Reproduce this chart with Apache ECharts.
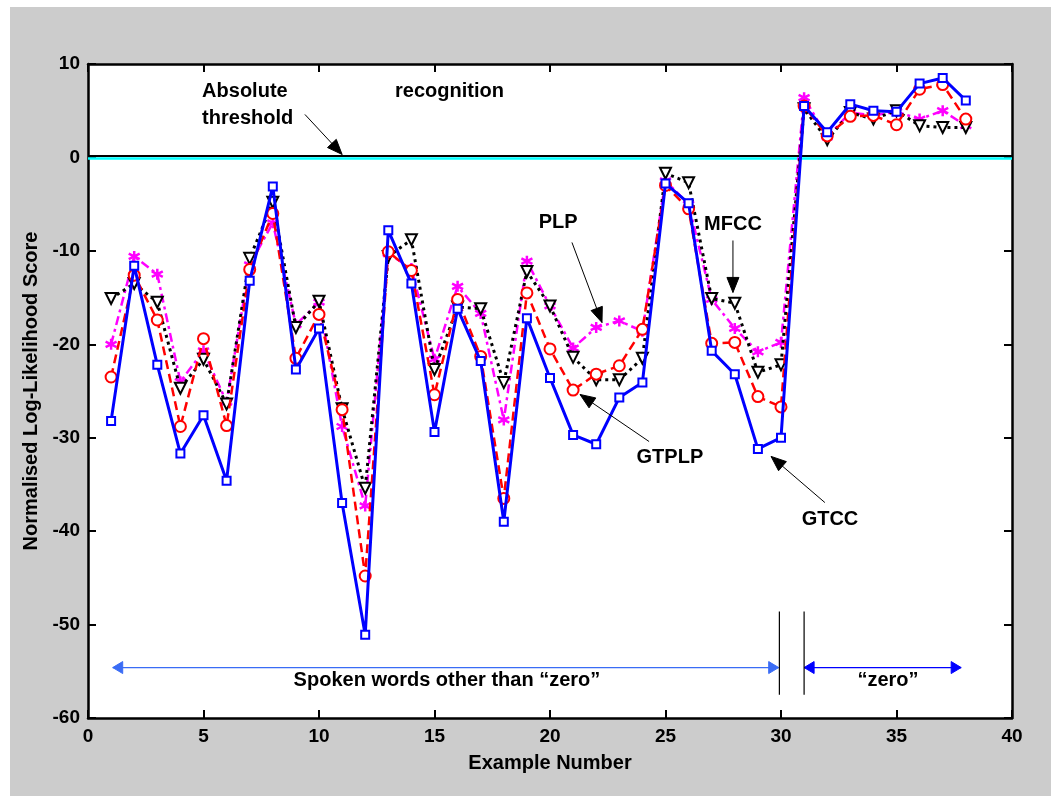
<!DOCTYPE html>
<html>
<head>
<meta charset="utf-8">
<script src="https://cdn.jsdelivr.net/npm/echarts@6/dist/echarts.min.js"></script>
<style>
html,body{margin:0;padding:0;background:#ffffff;}
#wrap{position:absolute;left:10px;top:7px;width:1041px;height:789px;background:#cccccc;}
#chart{position:absolute;left:0;top:0;width:1051px;height:796px;}
</style>
</head>
<body>
<div id="wrap"></div>
<div id="chart"></div>
<script>
// ---- data ----
const exampleNumbers = [1,2,3,4,5,6,7,8,9,10,11,12,13,14,15,16,17,18,19,20,21,22,23,24,25,26,27,28,29,30,31,32,33,34,35,36,37,38];
const gtcc  = [-28.2,-11.6,-22.2,-31.7,-27.6,-34.6,-13.2,-3.1,-22.7,-18.3,-37.0,-51.1,-7.8,-13.5,-29.4,-16.2,-21.8,-39.0,-17.2,-23.6,-29.7,-30.7,-25.7,-24.1,-2.8,-4.9,-20.7,-23.2,-31.2,-30.0,5.5,2.7,5.7,5.0,4.9,7.9,8.5,6.1];
const gtplp = [-23.5,-12.6,-17.4,-28.8,-19.4,-28.7,-12.0,-6.0,-21.5,-16.8,-27.0,-44.8,-10.1,-12.1,-25.4,-15.2,-21.3,-36.5,-14.5,-20.5,-24.9,-23.2,-22.3,-18.4,-3.0,-5.5,-19.9,-19.8,-25.6,-26.7,5.5,2.3,4.4,4.5,3.5,7.3,7.8,4.1];
const mfcc  = [-15.1,-13.5,-15.5,-24.7,-21.6,-26.4,-10.8,-4.8,-18.2,-15.4,-26.9,-35.4,-10.6,-8.8,-22.7,-16.0,-16.2,-24.1,-12.2,-15.9,-21.4,-23.8,-23.8,-21.5,-1.7,-2.7,-15.1,-15.6,-23.0,-22.2,5.2,1.9,4.8,4.1,5.0,3.4,3.2,3.2];
const plp   = [-20.0,-10.6,-12.5,-24.0,-20.7,-26.2,-11.5,-7.0,-17.9,-15.5,-28.8,-37.3,-10.3,-11.9,-21.6,-13.8,-16.7,-28.1,-11.1,-15.9,-20.4,-18.2,-17.5,-18.6,-2.5,-5.0,-15.2,-18.3,-20.8,-19.8,6.4,2.2,4.8,4.5,4.9,4.1,5.0,3.4];
const thresholdBlack = 0.15;
const thresholdCyan = -0.12;
const xTicks = [0,5,10,15,20,25,30,35,40];
const yTicks = [-60,-50,-40,-30,-20,-10,0,10];

const pair = arr => exampleNumbers.map((x,i)=>[x,arr[i]]);
const FONT = '"Liberation Sans", Arial, sans-serif';
const asterisk = 'path://M0,-6L0,6M-5.2,-3L5.2,3M-5.2,3L5.2,-3';

const chart = echarts.init(document.getElementById('chart'), null, {renderer:'canvas'});
const axisCommon = {
  axisLine:{show:true,onZero:false,lineStyle:{color:'#000',width:2.5}},
  axisTick:{show:true,inside:true,length:8,lineStyle:{color:'#000',width:2}},
  splitLine:{show:false}
};
chart.setOption({
  backgroundColor:'transparent',
  animation:false,
  grid:{left:88,right:39,top:64,bottom:78,show:true,backgroundColor:'#ffffff',borderWidth:0},
  xAxis:[
    Object.assign({type:'value',min:xTicks[0],max:xTicks[xTicks.length-1],interval:5,position:'bottom',
      name:'Example Number',nameLocation:'middle',nameGap:35,
      nameTextStyle:{fontFamily:FONT,fontWeight:'bold',fontSize:20,color:'#000'},
      axisLabel:{fontFamily:FONT,fontWeight:'bold',fontSize:19,color:'#000',margin:9}},axisCommon),
    Object.assign({type:'value',min:0,max:40,interval:5,position:'top',axisLabel:{show:false}},axisCommon)
  ],
  yAxis:[
    Object.assign({type:'value',min:yTicks[0],max:yTicks[yTicks.length-1],interval:10,position:'left',
      name:'Normalised Log-Likelihood Score',nameLocation:'middle',nameGap:44,
      nameTextStyle:{fontFamily:FONT,fontWeight:'bold',fontSize:20,color:'#000'},
      axisLabel:{fontFamily:FONT,fontWeight:'bold',fontSize:19,color:'#000',margin:8}},axisCommon),
    Object.assign({type:'value',min:-60,max:10,interval:10,position:'right',axisLabel:{show:false}},axisCommon)
  ],
  series:[
    {type:'line',data:[[0,thresholdCyan],[40,thresholdCyan]],symbol:'none',lineStyle:{color:'#00ffff',width:2.5},silent:true,z:1},
    {type:'line',data:[[0,thresholdBlack],[40,thresholdBlack]],symbol:'none',lineStyle:{color:'#000000',width:2},silent:true,z:1},
    {name:'PLP',type:'line',data:pair(plp),symbol:asterisk,symbolSize:11,
      lineStyle:{color:'#ff00ff',width:2.5,type:[9,4,3,4]},
      itemStyle:{color:'#ff00ff',borderColor:'#ff00ff',borderWidth:2.5},z:3},
    {name:'MFCC',type:'line',data:pair(mfcc),symbol:'emptyTriangle',symbolRotate:180,symbolSize:11,
      lineStyle:{color:'#000000',width:3,type:[3,4]},
      itemStyle:{color:'#000000',borderColor:'#000',borderWidth:1.8},z:4},
    {name:'GTPLP',type:'line',data:pair(gtplp),symbol:'emptyCircle',symbolSize:11,
      lineStyle:{color:'#ff0000',width:2.5,type:[9,5]},
      itemStyle:{color:'#ff0000',borderColor:'#ff0000',borderWidth:2.2},z:5},
    {name:'GTCC',type:'line',data:pair(gtcc),symbol:'emptyRect',symbolSize:8,
      lineStyle:{color:'#0000ff',width:3},
      itemStyle:{color:'#0000ff',borderColor:'#0000ff',borderWidth:2.2},z:6}
  ]
});

// ---- annotations (in data coordinates, converted through the chart's scales) ----
const texts = [
  {t:'Absolute',x:4.94,y:7.07,align:'left'},
  {t:'threshold',x:4.94,y:4.15,align:'left'},
  {t:'recognition',x:15.65,y:7.07,align:'center'},
  {t:'PLP',x:20.35,y:-6.96,align:'center'},
  {t:'MFCC',x:27.92,y:-7.17,align:'center'},
  {t:'GTPLP',x:25.19,y:-32.12,align:'center'},
  {t:'GTCC',x:32.12,y:-38.76,align:'center'},
  {t:'Spoken words other than \u201Czero\u201D',x:15.54,y:-56.0,align:'center'},
  {t:'\u201Czero\u201D',x:34.63,y:-56.0,align:'center'}
];
const arrows = [
  {from:[9.39,4.6],to:[11.0,0.32]},
  {from:[20.95,-9.1],to:[22.25,-17.67]},
  {from:[27.92,-8.89],to:[27.92,-14.45]},
  {from:[24.29,-30.41],to:[21.30,-25.37]},
  {from:[31.9,-36.94],to:[29.57,-32.0]}
];
const spans = [
  {a:[1.07,-54.6],b:[29.9,-54.6],color:'#3a6cf5'},
  {a:[31.0,-54.6],b:[37.8,-54.6],color:'#0000ff'}
];
const separators = [
  {x:29.93,y1:-48.6,y2:-57.5},
  {x:31.0,y1:-48.6,y2:-57.5}
];

function px(p){return chart.convertToPixel({gridIndex:0},p);}
function head(tip,from,len,hw,color){
  const dx=tip[0]-from[0], dy=tip[1]-from[1], L=Math.hypot(dx,dy);
  const ux=dx/L, uy=dy/L, bx=tip[0]-ux*len, by=tip[1]-uy*len;
  return {type:'polygon',shape:{points:[[tip[0],tip[1]],[bx-uy*hw,by+ux*hw],[bx+uy*hw,by-ux*hw]]},
    style:{fill:color,stroke:color,lineWidth:1},z:100};
}
const g=[];
texts.forEach(o=>{
  const p=px([o.x,o.y]);
  g.push({type:'text',x:p[0],y:p[1],z:100,style:{text:o.t,textAlign:o.align,textVerticalAlign:'middle',
    font:'bold 20px '+FONT,fill:'#000'}});
});
arrows.forEach(o=>{
  const a=px(o.from), b=px(o.to);
  g.push({type:'line',shape:{x1:a[0],y1:a[1],x2:b[0],y2:b[1]},style:{stroke:'#000',lineWidth:1},z:100});
  g.push(head(b,a,15,6,'#000'));
});
spans.forEach(o=>{
  const a=px(o.a), b=px(o.b);
  g.push({type:'line',shape:{x1:a[0],y1:a[1],x2:b[0],y2:b[1]},style:{stroke:o.color,lineWidth:1.2},z:100});
  g.push(head(a,b,10,6,o.color));
  g.push(head(b,a,10,6,o.color));
});
separators.forEach(o=>{
  const a=px([o.x,o.y1]), b=px([o.x,o.y2]);
  g.push({type:'line',shape:{x1:a[0],y1:a[1],x2:b[0],y2:b[1]},style:{stroke:'#000',lineWidth:1.2},z:100});
});
chart.setOption({graphic:{elements:g}});
</script>
</body>
</html>
